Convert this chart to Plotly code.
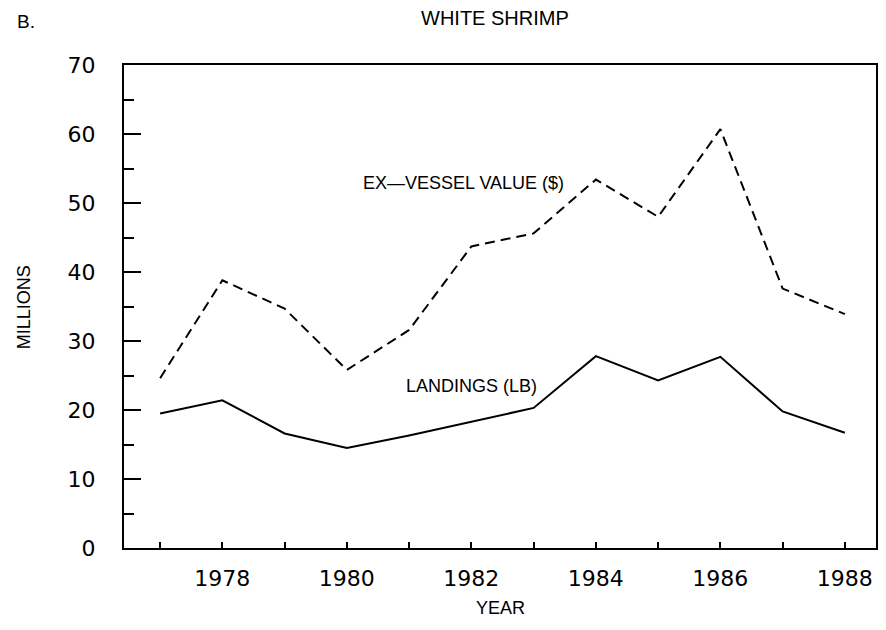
import plotly.graph_objects as go

# %% DATA
years = [1977, 1978, 1979, 1980, 1981, 1982, 1983, 1984, 1985, 1986, 1987, 1988]
landings_lb = [19.5, 21.4, 16.6, 14.5, 16.3, 18.3, 20.3, 27.8, 24.3, 27.7, 19.8, 16.7]
value_usd = [24.6, 38.8, 34.7, 25.8, 31.6, 43.7, 45.6, 53.4, 48.0, 60.7, 37.6, 33.9]
x_tick_years = [1978, 1980, 1982, 1984, 1986, 1988]
y_tick_vals = [0, 10, 20, 30, 40, 50, 60, 70]

FONT = "Liberation Sans, Arial"
TICK_FONT = "DejaVu Sans, Liberation Sans"

# %% FIGURE
fig = go.Figure()

fig.add_trace(
    go.Scatter(
        x=years, y=value_usd, mode="lines",
        line=dict(color="black", width=2, dash="10px,6px"),
        showlegend=False,
    )
)
fig.add_trace(
    go.Scatter(
        x=years, y=landings_lb, mode="lines",
        line=dict(color="black", width=2),
        showlegend=False,
    )
)

# series labels
fig.add_annotation(x=1981.88, y=52.85, text="EX\u2014VESSEL VALUE ($)", showarrow=False,
                   font=dict(family=FONT, size=18, color="black"))
fig.add_annotation(x=1982.0, y=23.45, text="LANDINGS (LB)", showarrow=False,
                   font=dict(family=FONT, size=18, color="black"))

# panel letter, title and axis titles
txt = dict(xref="paper", yref="paper", showarrow=False, xanchor="center", yanchor="middle")
fig.add_annotation(x=-0.1446, y=1.091, text="B.", **{**txt, "xanchor": "left"},
                   font=dict(family=FONT, size=19, color="black"))
fig.add_annotation(x=0.493, y=1.097, text="WHITE SHRIMP", **txt,
                   font=dict(family=FONT, size=20, color="black"))
fig.add_annotation(x=-0.1326, y=0.499, text="MILLIONS", textangle=-90, **txt,
                   font=dict(family=FONT, size=18, color="black"))
fig.add_annotation(x=0.5, y=-0.124, text="YEAR", **txt,
                   font=dict(family=FONT, size=18, color="black"))

fig.update_layout(
    width=878,
    height=622,
    margin=dict(l=116, r=8, t=57, b=82),
    paper_bgcolor="white",
    plot_bgcolor="white",
    font=dict(family=FONT, color="black"),
    xaxis=dict(
        range=[1976.42, 1988.5],
        tickvals=x_tick_years,
        ticks="inside", ticklen=6, tickwidth=1.5, tickcolor="black",
        minor=dict(dtick=1, tick0=1977, ticks="inside", ticklen=6, tickwidth=1.5, tickcolor="black"),
        showline=True, linecolor="black", linewidth=2, mirror=True,
        showgrid=False, zeroline=False,
        tickfont=dict(family=TICK_FONT, size=22),
        ticklabelstandoff=10,
    ),
    yaxis=dict(
        range=[0, 70],
        tickvals=y_tick_vals,
        ticks="inside", ticklen=17, tickwidth=2, tickcolor="black",
        minor=dict(dtick=5, ticks="inside", ticklen=10, tickwidth=2, tickcolor="black"),
        showline=True, linecolor="black", linewidth=2, mirror=True,
        showgrid=False, zeroline=False,
        tickfont=dict(family=TICK_FONT, size=22),
        ticklabelstandoff=22,
    ),
)

fig.write_html("out.html")
